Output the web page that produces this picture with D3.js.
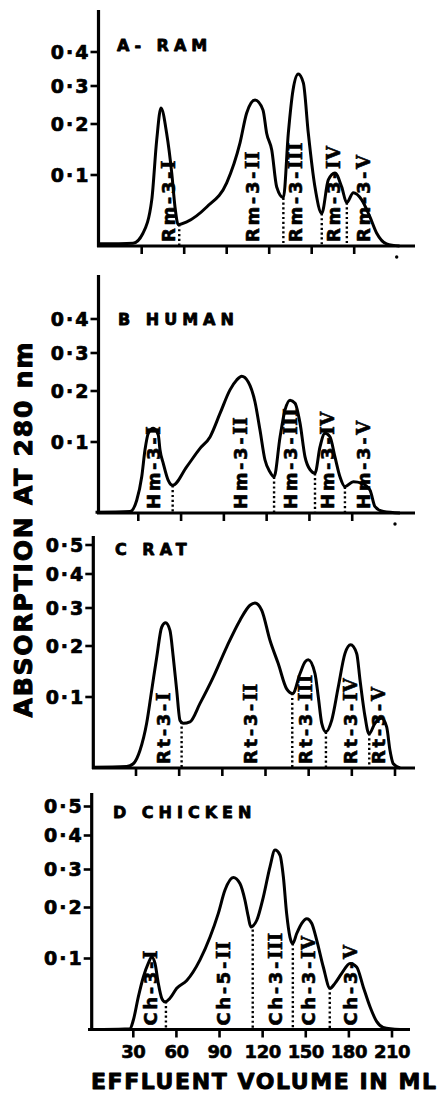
<!DOCTYPE html>
<html><head><meta charset="utf-8">
<script src="https://cdn.jsdelivr.net/npm/d3@7"></script>
<style>body{margin:0;background:#fff}svg{display:block}</style>
</head><body>
<svg id="chart" width="438" height="1093"></svg>
<script>
// ---------------- DATA ----------------
const volumeTicks = [30, 60, 90, 120, 150, 180, 210];
const absTicksShort = [0.1, 0.2, 0.3, 0.4];
const absTicksLong = [0.1, 0.2, 0.3, 0.4, 0.5];
const absTickLabels = ["0·1", "0·2", "0·3", "0·4", "0·5"];
const panelTitles = ["A- RAM", "B HUMAN", "C RAT", "D CHICKEN"];
const xTitle = "EFFLUENT VOLUME IN ML";
const yTitle = "ABSORPTION AT 280 nm";
const fractionNumerals = ["I", "II", "III", "IV", "V"];

// A - Ram
const ramVolume = [0, 23.9, 30.9, 37.1, 40.6, 43.6, 47.6, 51.2, 53.5, 55.8, 61.8, 75.9, 90.0, 99.4, 104.1, 110.0, 115.6, 118.2, 121.8, 125.3, 130.0, 133.5, 136.8, 140.5, 144.1, 147.6, 152.3, 157.1, 161.7, 166.4, 171.2, 174.7, 179.4, 185.3, 191.1, 195.9, 202.9, 212];
const ramAbsorbance = [0.003, 0.004, 0.018, 0.065, 0.169, 0.242, 0.182, 0.104, 0.055, 0.030, 0.034, 0.055, 0.089, 0.163, 0.229, 0.263, 0.237, 0.182, 0.149, 0.083, 0.068, 0.182, 0.289, 0.335, 0.309, 0.182, 0.083, 0.046, 0.093, 0.104, 0.083, 0.061, 0.075, 0.065, 0.041, 0.018, 0.003, 0];
const ramCuts = [56.5, 130.0, 157.1, 174.8];
const ramPrefix = ["Rm-3-", "Rm-3-", "Rm-3-", "Rm-3-", "Rm-3-"];
const ramFractionAt = [48.6, 107.6, 138.2, 165.2, 186.4];

// B - Human
const humanVolume = [0, 24.2, 28.9, 32.4, 34.7, 37.0, 40.5, 44.0, 45.2, 47.5, 51.0, 54.1, 63.9, 73.3, 80.3, 87.3, 94.3, 99.0, 102.5, 107.1, 111.8, 115.3, 118.8, 122.3, 125.2, 129.4, 132.9, 136.4, 139.9, 143.4, 146.9, 150.4, 153.9, 157.4, 160.9, 164.4, 167.9, 171.4, 174.9, 180.8, 186.6, 192.5, 196.0, 201.9, 213.5];
const humanAbsorbance = [0.001, 0.002, 0.018, 0.051, 0.089, 0.117, 0.127, 0.114, 0.089, 0.070, 0.046, 0.039, 0.065, 0.091, 0.110, 0.156, 0.203, 0.229, 0.239, 0.224, 0.179, 0.124, 0.075, 0.058, 0.051, 0.110, 0.163, 0.182, 0.176, 0.137, 0.079, 0.061, 0.056, 0.093, 0.117, 0.110, 0.079, 0.051, 0.037, 0.044, 0.042, 0.032, 0.009, 0.002, 0];
const humanCuts = [54.1, 125.2, 153.9, 174.9];
const humanPrefix = ["Hm-3-", "Hm-3-", "Hm-3-", "Hm-3-", "Hm-3-"];
const humanFractionAt = [40.5, 101.3, 136.4, 162.2, 187.8];

// C - Rat
const ratVolume = [0, 23.5, 28.1, 32.8, 37.4, 40.9, 44.4, 47.9, 50.6, 53.6, 55.9, 58.3, 60.6, 62.9, 67.5, 74.5, 83.7, 93.0, 102.3, 109.2, 112.7, 117.4, 123.1, 128.9, 134.7, 138.9, 144.0, 147.5, 149.7, 154.4, 156.7, 159.1, 162.0, 166.0, 170.6, 175.2, 179.2, 183.4, 185.7, 189.2, 191.9, 196.1, 200.8, 204.2, 206.5, 208.8, 213.5];
const ratAbsorbance = [0.001, 0.002, 0.006, 0.025, 0.063, 0.113, 0.178, 0.250, 0.261, 0.241, 0.178, 0.113, 0.067, 0.063, 0.065, 0.091, 0.139, 0.198, 0.268, 0.308, 0.315, 0.294, 0.215, 0.165, 0.116, 0.107, 0.146, 0.169, 0.173, 0.146, 0.100, 0.063, 0.051, 0.067, 0.120, 0.185, 0.203, 0.185, 0.133, 0.072, 0.048, 0.063, 0.070, 0.058, 0.025, 0.006, 0];
const ratCuts = [61.7, 138.6, 162.0, 192.1];
const ratPrefix = ["Rt-3-", "Rt-3-", "Rt-3-", "Rt-3-", "Rt-3-"];
const ratFractionAt = [49.0, 109.2, 147.5, 178.7, 198.4];

// D - Chicken
const chickenVolume = [9.1, 27.7, 30.0, 33.5, 37.0, 40.4, 42.8, 45.1, 47.4, 49.8, 52.1, 55.5, 60.2, 67.2, 76.4, 83.4, 89.1, 93.8, 99.6, 104.2, 107.7, 110.0, 111.7, 115.9, 120.5, 125.1, 128.6, 132.1, 134.4, 136.7, 139.0, 140.9, 143.7, 147.2, 150.7, 154.1, 157.6, 162.2, 166.9, 170.3, 175.0, 180.8, 185.4, 190.0, 194.7, 199.4, 203.9, 215.6];
const chickenAbsorbance = [0, 0.001, 0.013, 0.046, 0.074, 0.093, 0.103, 0.093, 0.065, 0.044, 0.039, 0.044, 0.058, 0.069, 0.098, 0.142, 0.188, 0.246, 0.279, 0.263, 0.219, 0.182, 0.162, 0.175, 0.228, 0.308, 0.357, 0.342, 0.281, 0.188, 0.142, 0.129, 0.149, 0.169, 0.178, 0.169, 0.136, 0.088, 0.058, 0.065, 0.079, 0.093, 0.088, 0.060, 0.032, 0.011, 0.003, 0];
const chickenCuts = [52.7, 113.1, 141.0, 166.7];
const chickenPrefix = ["Ch-3-", "Ch-5-", "Ch-3-", "Ch-3-", "Ch-3-"];
const chickenFractionAt = [41.6, 92.6, 128.6, 151.8, 180.8];

// ---------------- LAYOUT ----------------
const FONT = "'DejaVu Sans', Arial, sans-serif";
const SERIF = "'DejaVu Serif', 'Liberation Serif', serif";
const layouts = [
  {axisX: 98.5, top: 10,  base: 246,    x30: 141.7, x210: 396.7, left: 97,  right: 415, titleX: 117, titleY: 51,  ticks: absTicksShort, lastTickDot: true,  xLabels: false},
  {axisX: 98.5, top: 275, base: 513,    x30: 138.3, x210: 395,   left: 97,  right: 415, titleX: 118, titleY: 325, ticks: absTicksShort, lastTickDot: true,  xLabels: false},
  {axisX: 93.3, top: 536, base: 768,    x30: 136,   x210: 395,   left: 92,  right: 415, titleX: 115, titleY: 555, ticks: absTicksLong,  lastTickDot: false, xLabels: false},
  {axisX: 91.7, top: 793, base: 1029.5, x30: 133.3, x210: 392,   left: 88,  right: 410, titleX: 113, titleY: 818, ticks: absTicksLong,  lastTickDot: false, xLabels: true}
];
const panels = [
  {vol: ramVolume, abs: ramAbsorbance, cuts: ramCuts, prefix: ramPrefix, at: ramFractionAt},
  {vol: humanVolume, abs: humanAbsorbance, cuts: humanCuts, prefix: humanPrefix, at: humanFractionAt},
  {vol: ratVolume, abs: ratAbsorbance, cuts: ratCuts, prefix: ratPrefix, at: ratFractionAt},
  {vol: chickenVolume, abs: chickenAbsorbance, cuts: chickenCuts, prefix: chickenPrefix, at: chickenFractionAt}
];
// pixel heights above baseline for the (non-linear) absorbance axis
const absDomain = [0, 0.1, 0.2, 0.3, 0.4, 0.5];
const absHeights = [0, 71, 122, 160, 194, 223];

const svg = d3.select("#chart");
function heavy(sel, w) {
  return sel.attr("fill", "#000").attr("stroke", "#000").attr("stroke-width", w).attr("stroke-linejoin", "round");
}

panels.forEach((p, i) => {
  const L = layouts[i];
  const g = svg.append("g");
  const x = d3.scaleLinear().domain([30, 210]).range([L.x30, L.x210]);
  const y = d3.scaleLinear().domain(absDomain).range(absHeights.map(h => L.base - h));

  // axes
  g.append("line").attr("x1", L.axisX).attr("x2", L.axisX).attr("y1", L.top).attr("y2", L.base + 1)
    .attr("stroke", "#000").attr("stroke-width", 3.2);
  g.append("line").attr("x1", L.left).attr("x2", L.right).attr("y1", L.base).attr("y2", L.base)
    .attr("stroke", "#000").attr("stroke-width", 2.8);

  // y ticks
  L.ticks.forEach((t, k) => {
    g.append("line").attr("x1", L.axisX - 8).attr("x2", L.axisX).attr("y1", y(t)).attr("y2", y(t))
      .attr("stroke", "#000").attr("stroke-width", 2.6);
    heavy(g.append("text"), 0.7).attr("x", L.axisX - 8).attr("y", y(t)).attr("dy", "0.36em")
      .attr("text-anchor", "end").attr("font-family", FONT).attr("font-weight", "bold")
      .attr("font-size", 19).attr("letter-spacing", 2).text(absTickLabels[k]);
  });

  // x ticks
  volumeTicks.forEach((v, k) => {
    if (L.lastTickDot && k === volumeTicks.length - 1) {
      g.append("circle").attr("cx", x(v)).attr("cy", L.base + 11).attr("r", 1.7).attr("fill", "#000");
    } else {
      g.append("line").attr("x1", x(v)).attr("x2", x(v)).attr("y1", L.base).attr("y2", L.base + 8)
        .attr("stroke", "#000").attr("stroke-width", 2.6);
    }
    if (L.xLabels) {
      heavy(g.append("text"), 0.6).attr("x", x(v)).attr("y", L.base + 28).attr("text-anchor", "middle")
        .attr("font-family", FONT).attr("font-weight", "bold").attr("font-size", 18)
        .attr("letter-spacing", -0.5).text(v);
    }
  });

  // curve
  const pts = p.vol.map((v, k) => [v, p.abs[k]]);
  const line = d3.line().x(d => x(d[0])).y(d => y(d[1])).curve(d3.curveMonotoneX);
  g.append("path").attr("d", line(pts)).attr("fill", "none").attr("stroke", "#000")
    .attr("stroke-width", 3).attr("stroke-linejoin", "round");

  // dotted fraction cuts
  const bis = d3.bisector(d => d[0]).left;
  p.cuts.forEach(c => {
    const j = Math.max(1, bis(pts, c));
    const a = pts[j - 1], b = pts[j];
    const val = a[1] + (b[1] - a[1]) * (c - a[0]) / (b[0] - a[0]);
    g.append("line").attr("x1", x(c)).attr("x2", x(c)).attr("y1", y(val)).attr("y2", L.base)
      .attr("stroke", "#000").attr("stroke-width", 2.4).attr("stroke-dasharray", "2.2,2.6");
  });

  // fraction labels (rotated)
  p.prefix.forEach((n, k) => {
    const t = heavy(g.append("text"), 0.6)
      .attr("transform", `translate(${x(p.at[k])},${L.base - 4}) rotate(-90)`)
      .attr("dominant-baseline", "central")
      .attr("font-family", FONT).attr("font-weight", "bold").attr("font-size", 18)
      .attr("letter-spacing", 2.6);
    t.append("tspan").text(n);
    t.append("tspan").attr("font-family", SERIF).attr("letter-spacing", 0.5).text(fractionNumerals[k]);
  });

  // panel title
  heavy(g.append("text"), 0.8).attr("x", L.titleX).attr("y", L.titleY)
    .attr("font-family", FONT).attr("font-weight", "bold").attr("font-size", 16)
    .attr("letter-spacing", 5).text(panelTitles[i]);
});

// axis titles
heavy(svg.append("text"), 1).attr("transform", "translate(23,530) rotate(-90)")
  .attr("text-anchor", "middle").attr("dominant-baseline", "central")
  .attr("font-family", FONT).attr("font-weight", "bold").attr("font-size", 25)
  .attr("textLength", 375).attr("lengthAdjust", "spacing").text(yTitle);
heavy(svg.append("text"), 0.9).attr("x", 91).attr("y", 1089)
  .attr("font-family", FONT).attr("font-weight", "bold").attr("font-size", 22)
  .attr("textLength", 345).attr("lengthAdjust", "spacing").text(xTitle);
</script>
</body></html>
